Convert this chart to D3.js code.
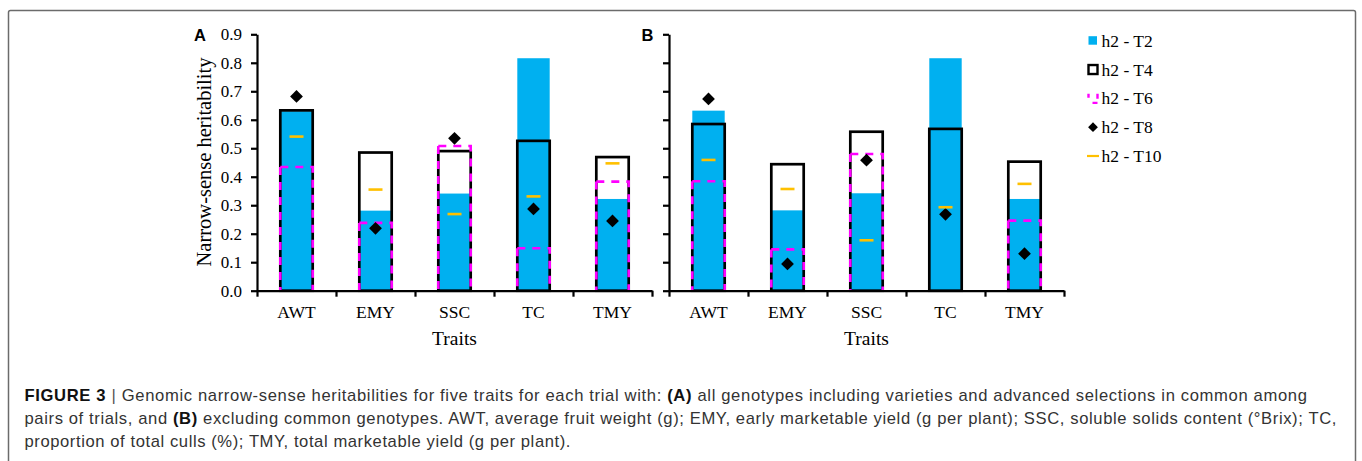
<!DOCTYPE html>
<html>
<head>
<meta charset="utf-8">
<script src="https://cdn.jsdelivr.net/npm/d3@7"></script>
<style>
  body { margin: 0; background: #fff; }
  svg { display: block; }
</style>
</head>
<body>
<script>
// Data
var categories = ["AWT", "EMY", "SSC", "TC", "TMY"];
var seriesNames = ["h2 - T2", "h2 - T4", "h2 - T6", "h2 - T8", "h2 - T10"];
var yTicks = [0, 0.1, 0.2, 0.3, 0.4, 0.5, 0.6, 0.7, 0.8, 0.9];

// panel A - all genotypes
var aT2 = [0.630, 0.281, 0.341, 0.816, 0.322];
var aT4 = [0.633, 0.485, 0.490, 0.526, 0.469];
var aT6 = [0.434, 0.238, 0.508, 0.149, 0.383];
var aT8 = [0.682, 0.219, 0.535, 0.287, 0.245];
var aT10 = [0.541, 0.355, 0.269, 0.331, 0.447];

// panel B - excluding common genotypes
var bT2 = [0.632, 0.282, 0.342, 0.816, 0.322];
var bT4 = [0.585, 0.444, 0.558, 0.568, 0.453];
var bT6 = [0.384, 0.145, 0.480, null, 0.246];
var bT8 = [0.673, 0.094, 0.458, 0.268, 0.130];
var bT10 = [0.459, 0.357, 0.177, 0.293, 0.375];

// Colors
var cBlue = "#00B0F0";
var cMagenta = "#FF00FF";
var cOrange = "#FFC000";

var width = 1362, height = 461;
var serif = "'Liberation Serif', 'Times New Roman', serif";
var sans = "'Liberation Sans', Arial, sans-serif";

var svg = d3.select("body")
        .append("svg")
        .attr("width", width)
        .attr("height", height);

// figure frame
svg.append("rect")
        .attr("x", 8.5)
        .attr("y", 10.5)
        .attr("width", 1347)
        .attr("height", 470)
        .attr("rx", 2)
        .attr("fill", "none")
        .attr("stroke", "#6b6b6b")
        .attr("stroke-width", 1.5);

var y = d3.scaleLinear().domain([0, 0.9]).range([290.7, 34.3]);

function drawPanel(x0, t2, t4, t6, t8, t10, label, labelX, showYLabels) {
    var g = svg.append("g");
    var x = d3.scaleBand().domain(categories).range([x0, x0 + 395]).padding(0);
    var bw = x.bandwidth() * 0.41;
    var cx = function(i) { return x(categories[i]) + x.bandwidth() / 2; };

    // T2 filled bars
    g.selectAll(".t2").data(t2).enter().append("rect")
            .attr("x", function(d, i) { return cx(i) - bw / 2; })
            .attr("y", function(d) { return y(d); })
            .attr("width", bw)
            .attr("height", function(d) { return y(0) - y(d); })
            .attr("fill", cBlue);

    // T4 outlined bars
    g.selectAll(".t4").data(t4).enter().append("rect")
            .attr("x", function(d, i) { return cx(i) - bw / 2; })
            .attr("y", function(d) { return y(d); })
            .attr("width", bw)
            .attr("height", function(d) { return y(0) - y(d); })
            .attr("fill", "none")
            .attr("stroke", "#000")
            .attr("stroke-width", 2.7);

    // T6 dashed outline (open at the bottom)
    g.selectAll(".t6").data(t6).enter().append("path")
            .attr("d", function(d, i) {
                if (d == null) return null;
                var l = cx(i) - bw / 2, r = cx(i) + bw / 2;
                var p = d3.path();
                p.moveTo(l, y(d));
                p.lineTo(r, y(d));
                p.lineTo(r, y(0));
                p.moveTo(l, y(d));
                p.lineTo(l, y(0));
                return p.toString();
            })
            .attr("fill", "none")
            .attr("stroke", cMagenta)
            .attr("stroke-width", 2.6)
            .attr("stroke-dasharray", "8,7");

    // T8 diamonds
    g.selectAll(".t8").data(t8).enter().append("path")
            .attr("d", d3.symbol().type(d3.symbolSquare).size(82))
            .attr("transform", function(d, i) {
                return "translate(" + cx(i) + "," + y(d) + ") rotate(45)";
            })
            .attr("fill", "#000");

    // T10 short dashes
    g.selectAll(".t10").data(t10).enter().append("line")
            .attr("x1", function(d, i) { return cx(i) - 7; })
            .attr("x2", function(d, i) { return cx(i) + 7; })
            .attr("y1", function(d) { return y(d); })
            .attr("y2", function(d) { return y(d); })
            .attr("stroke", cOrange)
            .attr("stroke-width", 2.6);

    // y axis
    var yAxis = d3.axisLeft(y)
            .tickValues(yTicks)
            .tickSize(6)
            .tickSizeOuter(0)
            .tickPadding(9)
            .tickFormat(showYLabels ? d3.format(".1f") : "");
    var ya = g.append("g")
            .attr("transform", "translate(" + x0 + ",0)")
            .call(yAxis);
    ya.selectAll("text").attr("font-family", serif).attr("font-size", 17).attr("fill", "#000");

    // x axis: boundary ticks
    var xb = d3.scaleLinear().domain([0, categories.length]).range([x0, x0 + 395]);
    var xTickAxis = d3.axisBottom(xb)
            .ticks(categories.length)
            .tickSize(6)
            .tickSizeOuter(0)
            .tickFormat("");
    g.append("g")
            .attr("transform", "translate(0," + y(0) + ")")
            .call(xTickAxis);

    // x axis: category labels
    var xLabelAxis = d3.axisBottom(x).tickSize(0).tickPadding(15.2);
    var xl = g.append("g")
            .attr("transform", "translate(0," + y(0) + ")")
            .call(xLabelAxis);
    xl.select(".domain").remove();
    xl.selectAll("text").attr("font-family", serif).attr("font-size", 17.5).attr("fill", "#000");

    g.selectAll(".domain, .tick line").attr("stroke", "#000").attr("stroke-width", 2.2);

    g.append("text")
            .attr("x", x0 + 197.5)
            .attr("y", 345)
            .attr("text-anchor", "middle")
            .attr("font-family", serif)
            .attr("font-size", 19.5)
            .text("Traits");

    g.append("text")
            .attr("x", labelX)
            .attr("y", 40.7)
            .attr("font-family", sans)
            .attr("font-weight", "bold")
            .attr("font-size", 16.5)
            .text(label);
}

drawPanel(257, aT2, aT4, aT6, aT8, aT10, "A", 194, true);
drawPanel(669, bT2, bT4, bT6, bT8, bT10, "B", 641.5, false);

svg.append("text")
        .attr("transform", "translate(210.5,162) rotate(-90)")
        .attr("text-anchor", "middle")
        .attr("font-family", serif)
        .attr("font-size", 20.5)
        .text("Narrow-sense heritability");

// legend
var legend = svg.append("g").attr("transform", "translate(1093,0)");
var legendY = d3.scaleLinear().domain([0, 4]).range([40.7, 156]);
seriesNames.forEach(function(name, i) {
    var ly = legendY(i);
    var item = legend.append("g").attr("transform", "translate(0," + ly + ")");
    if (i === 0) {
        item.append("rect").attr("x", -4.5).attr("y", -4.5).attr("width", 8.5).attr("height", 8.5)
                .attr("fill", cBlue);
    } else if (i === 1) {
        item.append("rect").attr("x", -4.5).attr("y", -4.5).attr("width", 9).attr("height", 9)
                .attr("fill", "none").attr("stroke", "#000").attr("stroke-width", 2.4);
    } else if (i === 2) {
        item.append("rect").attr("x", -4.5).attr("y", -4.5).attr("width", 9).attr("height", 9)
                .attr("fill", "none").attr("stroke", cMagenta).attr("stroke-width", 2.4)
                .attr("stroke-dasharray", "0,9,5,4,5,9,5,4");
    } else if (i === 3) {
        item.append("path")
                .attr("d", d3.symbol().type(d3.symbolSquare).size(48))
                .attr("transform", "rotate(45)")
                .attr("fill", "#000");
    } else {
        item.append("line").attr("x1", -6).attr("x2", 6).attr("y1", 0).attr("y2", 0)
                .attr("stroke", cOrange).attr("stroke-width", 2.2);
    }
    item.append("text")
            .attr("x", 8.5)
            .attr("dy", "0.35em")
            .attr("font-family", serif)
            .attr("font-size", 17.5)
            .text(name);
});

// caption
var capLines = [
    [["FIGURE 3", "bold", "#111"], [" | ", "normal", "#555"], ["Genomic narrow-sense heritabilities for five traits for each trial with: ", "normal", "#333"],
     ["(A)", "bold", "#111"], [" all genotypes including varieties and advanced selections in common among", "normal", "#333"]],
    [["pairs of trials, and ", "normal", "#333"], ["(B)", "bold", "#111"],
     [" excluding common genotypes. AWT, average fruit weight (g); EMY, early marketable yield (g per plant); SSC, soluble solids content (\u00B0Brix); TC,", "normal", "#333"]],
    [["proportion of total culls (%); TMY, total marketable yield (g per plant).", "normal", "#333"]]
];
var capY = [400.5, 424, 447];
var capEnd = [1307.5, 1337, 571];
var capX = 24.5;
capLines.forEach(function(parts, i) {
    var t = svg.append("text")
            .attr("x", capX)
            .attr("y", capY[i])
            .attr("font-family", sans)
            .attr("font-size", 16.6);
    var nChars = 0;
    parts.forEach(function(p) {
        nChars += p[0].length;
        t.append("tspan")
                .attr("font-weight", p[1])
                .attr("fill", p[2])
                .text(p[0]);
    });
    // widen tracking to match the line length of the printed caption
    var w = t.node().getComputedTextLength();
    var ls = (capEnd[i] - capX - w) / nChars;
    t.attr("letter-spacing", ls.toFixed(3));
});
</script>
</body>
</html>
